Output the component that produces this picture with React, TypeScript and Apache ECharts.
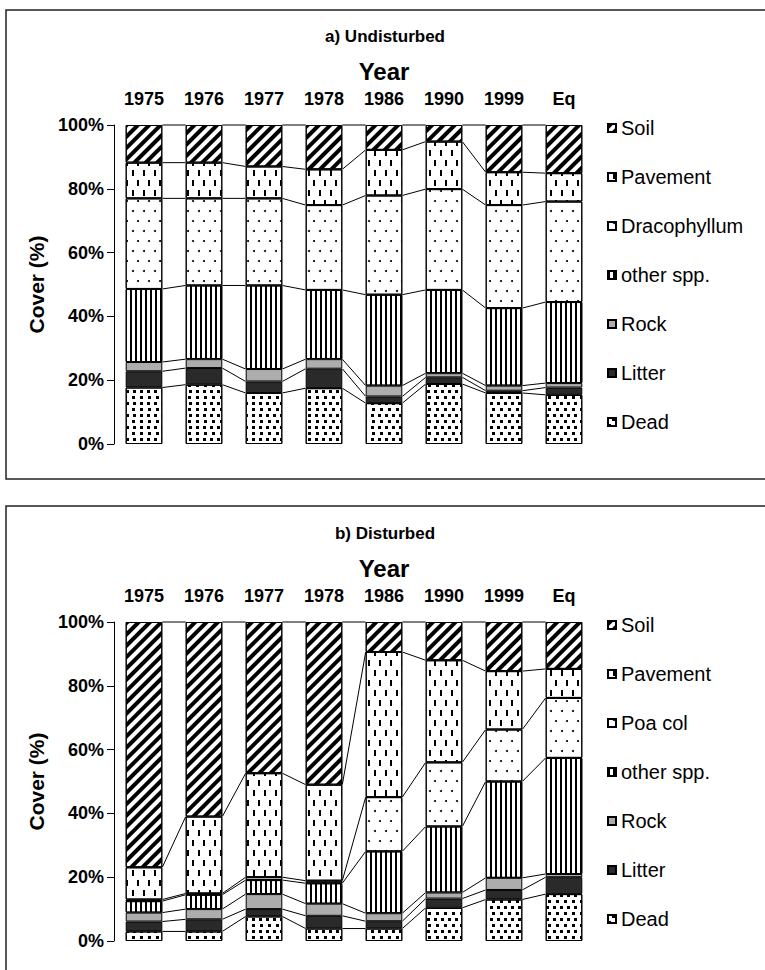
import React, { useEffect, useRef } from 'react';
import * as echarts from 'echarts';

const FONT = "'Liberation Sans', Arial, Helvetica, sans-serif";

const categories = ['1975', '1976', '1977', '1978', '1986', '1990', '1999', 'Eq'];

// a) Undisturbed (stack order bottom -> top)
const aDead = [17.7, 18.6, 16.0, 17.5, 12.8, 18.8, 16.0, 15.4];
const aLitter = [5.1, 5.2, 3.6, 6.1, 2.1, 2.1, 0.7, 2.3];
const aRock = [2.9, 2.8, 3.9, 3.0, 3.4, 1.3, 1.6, 1.4];
const aOther = [22.9, 23.1, 26.2, 21.7, 28.5, 26.1, 24.3, 25.4];
const aDraco = [28.4, 27.3, 27.3, 26.6, 31.1, 31.6, 32.3, 31.5];
const aPavement = [11.2, 11.2, 10.0, 11.2, 14.3, 14.9, 10.3, 8.9];
const aSoil = [11.8, 11.8, 13.0, 13.9, 7.8, 5.2, 14.8, 15.1];

// b) Disturbed (stack order bottom -> top)
const bDead = [3.0, 3.0, 7.7, 3.9, 3.9, 10.4, 13.0, 14.7];
const bLitter = [3.1, 3.8, 2.3, 4.0, 2.3, 2.9, 3.0, 5.3];
const bRock = [2.8, 3.2, 4.7, 3.8, 2.5, 1.9, 3.8, 1.0];
const bOther = [3.6, 4.5, 4.4, 6.4, 19.4, 20.7, 30.2, 36.4];
const bPoa = [0.5, 0.4, 0.9, 0.8, 17.0, 20.1, 16.3, 18.8];
const bPavement = [10.1, 24.1, 32.6, 30.1, 45.5, 32.0, 18.3, 9.1];
const bSoil = [76.9, 61.0, 47.4, 51.0, 9.4, 12.0, 15.4, 14.7];

const yMin = 0;
const yMax = 100;
const yInterval = 20;

const STYLES: Record<string, any> = {
  dead: {
    color: '#fff',
    decal: { symbol: 'rect', symbolSize: 1, symbolKeepAspect: false, color: '#000', dashArrayX: [[2.6, 3.6], [0, 3.1, 2.6, 0.5]], dashArrayY: [2.6, 2.2] },
  },
  litter: { color: '#2a2a2a' },
  rock: { color: '#adadad' },
  other: {
    color: '#fff',
    decal: { symbol: 'rect', symbolSize: 1, symbolKeepAspect: false, color: '#000', dashArrayX: [1.1, 2.7], dashArrayY: [1, 0] },
  },
  dots: {
    color: '#fff',
    decal: { symbol: 'circle', symbolSize: 1, symbolKeepAspect: false, color: '#000', dashArrayX: [[1.8, 8.2], [0, 5, 1.8, 3.2]], dashArrayY: [1.8, 7.2] },
  },
  dashes: {
    color: '#fff',
    decal: { symbol: 'rect', symbolSize: 1, symbolKeepAspect: false, color: '#000', dashArrayX: [[1.6, 8.4], [0, 5, 1.6, 3.4]], dashArrayY: [6, 4] },
  },
  soil: {
    color: '#fff',
    decal: { symbol: 'rect', symbolSize: 1, symbolKeepAspect: false, color: '#000', dashArrayX: [1, 0], dashArrayY: [3.3, 3.4], rotation: -Math.PI / 4 },
  },
};

const BAR_FRAC = 0.61;

type Layer = { name: string; values: number[]; style: string };

const panelA: Layer[] = [
  { name: 'Dead', values: aDead, style: 'dead' },
  { name: 'Litter', values: aLitter, style: 'litter' },
  { name: 'Rock', values: aRock, style: 'rock' },
  { name: 'other spp.', values: aOther, style: 'other' },
  { name: 'Dracophyllum', values: aDraco, style: 'dots' },
  { name: 'Pavement', values: aPavement, style: 'dashes' },
  { name: 'Soil', values: aSoil, style: 'soil' },
];

const panelB: Layer[] = [
  { name: 'Dead', values: bDead, style: 'dead' },
  { name: 'Litter', values: bLitter, style: 'litter' },
  { name: 'Rock', values: bRock, style: 'rock' },
  { name: 'other spp.', values: bOther, style: 'other' },
  { name: 'Poa col', values: bPoa, style: 'dots' },
  { name: 'Pavement', values: bPavement, style: 'dashes' },
  { name: 'Soil', values: bSoil, style: 'soil' },
];

function cumulative(layers: Layer[]): number[][] {
  const out: number[][] = [];
  const run = categories.map(() => 0);
  layers.forEach((l) => {
    l.values.forEach((v, i) => (run[i] += v));
    out.push(run.slice());
  });
  return out;
}

function buildSeries(layers: Layer[], idx: number, stack: string) {
  const series: any[] = layers.map((l) => ({
    type: 'bar',
    name: l.name,
    stack,
    xAxisIndex: idx,
    yAxisIndex: idx,
    barWidth: BAR_FRAC * 100 + '%',
    data: l.values,
    itemStyle: { ...STYLES[l.style], borderColor: '#000', borderWidth: 1 },
    emphasis: { disabled: true },
  }));
  const cum = cumulative(layers);
  series.push({
    type: 'custom',
    xAxisIndex: idx,
    yAxisIndex: idx,
    silent: true,
    clip: false,
    data: categories.map((_, i) => [i, 0]),
    encode: { x: 0, y: 1 },
    renderItem: (params: any, api: any) => {
      const i = params.dataIndex;
      if (i >= categories.length - 1) return null;
      const half = (api.size([1, 0])[0] * BAR_FRAC) / 2;
      const children = cum.map((level) => {
        const p1 = api.coord([i, level[i]]);
        const p2 = api.coord([i + 1, level[i + 1]]);
        return {
          type: 'line',
          shape: { x1: p1[0] + half, y1: p1[1], x2: p2[0] - half, y2: p2[1] },
          style: { stroke: '#000', lineWidth: 1 },
        };
      });
      return { type: 'group', children };
    },
  });
  return series;
}

const PANEL_OFFSET = 497;

function gridFor(k: number) {
  return { left: 114, top: 125 + k * PANEL_OFFSET, width: 480, height: 319 };
}

function xAxisFor(k: number) {
  return {
    type: 'category',
    gridIndex: k,
    data: categories,
    position: 'top',
    axisLine: { show: false },
    axisTick: { show: false },
    axisLabel: { color: '#000', fontWeight: 'bold', fontSize: 18, fontFamily: FONT, margin: 17 },
  };
}

function yAxisFor(k: number) {
  return {
    type: 'value',
    gridIndex: k,
    min: yMin,
    max: yMax,
    interval: yInterval,
    axisLine: { show: true, lineStyle: { color: '#000', width: 1 } },
    axisTick: { show: true, inside: false, length: 7, lineStyle: { color: '#000', width: 1 } },
    splitLine: { show: false },
    axisLabel: { color: '#000', fontWeight: 'bold', fontSize: 18, fontFamily: FONT, margin: 10, formatter: '{value}%' },
    name: 'Cover (%)',
    nameLocation: 'middle',
    nameGap: 64,
    nameTextStyle: { color: '#000', fontWeight: 'bold', fontSize: 21, fontFamily: FONT },
  };
}

function legendFor(k: number, names: string[]) {
  return {
    orient: 'vertical',
    left: 602,
    top: 112 + k * PANEL_OFFSET,
    itemWidth: 8,
    itemHeight: 8,
    itemGap: 27,
    icon: 'rect',
    selectedMode: false,
    data: names,
    textStyle: { color: '#000', fontSize: 20, fontFamily: FONT, lineHeight: 22 },
  };
}

function textEl(text: string, x: number, y: number, size: number) {
  return {
    type: 'text',
    x,
    y,
    silent: true,
    style: {
      text,
      fill: '#000',
      fontSize: size,
      fontWeight: 'bold',
      fontFamily: FONT,
      align: 'center',
      verticalAlign: 'middle',
    },
  };
}

export default function App() {
  const ref = useRef<HTMLDivElement>(null);
  useEffect(() => {
    if (!ref.current) return;
    const chart = echarts.init(ref.current, undefined, { renderer: 'svg' });
    const legendA = panelA.map((l) => l.name).reverse();
    const legendB = panelB.map((l) => l.name).reverse();
    chart.setOption({
      animation: false,
      backgroundColor: '#fff',
      grid: [gridFor(0), gridFor(1)],
      xAxis: [xAxisFor(0), xAxisFor(1)],
      yAxis: [yAxisFor(0), yAxisFor(1)],
      legend: [legendFor(0, legendA), legendFor(1, legendB)],
      series: [...buildSeries(panelA, 0, 'a'), ...buildSeries(panelB, 1, 'b')],
      graphic: [
        { type: 'rect', silent: true, shape: { x: 6, y: 10, width: 800, height: 469 }, style: { fill: 'none', stroke: '#222', lineWidth: 1.5 } },
        { type: 'rect', silent: true, shape: { x: 6, y: 506, width: 800, height: 520 }, style: { fill: 'none', stroke: '#222', lineWidth: 1.5 } },
        textEl('a) Undisturbed', 385, 36, 17),
        textEl('Year', 384, 71, 24),
        textEl('b) Disturbed', 385, 36 + PANEL_OFFSET, 17),
        textEl('Year', 384, 71 + PANEL_OFFSET, 24),
      ],
    });
    return () => chart.dispose();
  }, []);
  return (
    <div
      ref={ref}
      style={{ position: 'absolute', left: 0, top: 0, width: 765, height: 970 }}
    />
  );
}
